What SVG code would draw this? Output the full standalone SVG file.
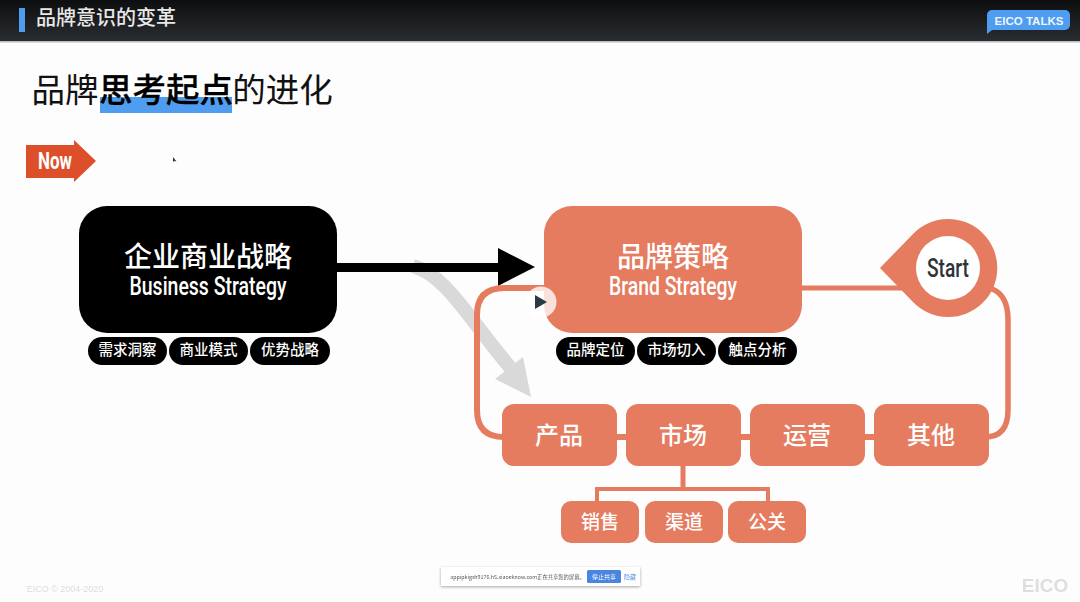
<svg xmlns="http://www.w3.org/2000/svg" width="1080" height="602" viewBox="0 0 1080 602">
<style>
text{font-family:"Noto Sans CJK SC","Noto Sans",sans-serif;text-anchor:middle}
.lat{font-family:"Roboto","Liberation Sans",sans-serif}
.o{fill:#e57b5f}
.pill{fill:#000}
.pt{fill:#fff;font-size:14.500px;font-weight:500}
.nt{fill:#fff;font-size:24px;font-weight:500}
.st{fill:#fff;font-size:19px;font-weight:500}
.hl{fill:#fff;font-size:28px;font-weight:500}
.en{fill:#fff;font-size:25.500px;font-weight:500}
.ln{fill:none;stroke:#e57b5f}
</style>
<defs>
<linearGradient id="hd" x1="0" y1="0" x2="0" y2="1"><stop offset="0" stop-color="#0d0e10"/><stop offset="1" stop-color="#2a2d30"/></linearGradient>
<filter id="soft" x="-10%" y="-30%" width="120%" height="160%"><feGaussianBlur stdDeviation="0.5"/></filter>
<filter id="sh" x="-5%" y="-30%" width="110%" height="170%"><feDropShadow dx="0" dy="1" stdDeviation="1.5" flood-color="#000" flood-opacity="0.35"/></filter>
</defs>
<rect width="1080" height="602" fill="#fdfdfd"/>
<g id="header">
<rect width="1080" height="41" fill="url(#hd)"/>
<rect y="41" width="1080" height="1.5" fill="#b9bcc0"/>
<rect x="19" y="8" width="6" height="24" fill="#4f9df0"/>
<text x="106" y="25" font-size="20" font-weight="500" fill="#e8e8e8" textLength="140" lengthAdjust="spacingAndGlyphs">品牌意识的变革</text>
</g>
<g id="badge">
<path d="M992,10H1065a5,5 0 0 1 5,5V25a5,5 0 0 1 -5,5H992L987,34V15a5,5 0 0 1 5,-5Z" fill="#4f9df0"/>
<text x="1029" y="24.500" font-size="11.500" font-weight="700" fill="#eef5fd" style="font-family:'Liberation Sans',sans-serif">EICO TALKS</text>
</g>
<g id="title">
<rect x="100" y="97" width="132" height="16" fill="#4f9df0"/>
<text x="65" y="102" font-size="33.500" font-weight="400" fill="#111">品牌</text>
<text x="166" y="102" font-size="33.500" font-weight="500" fill="#000" stroke="#000" stroke-width="0.300">思考起点</text>
<text x="282.500" y="102" font-size="33.500" font-weight="400" fill="#111">的进化</text>
</g>
<g id="now">
<polygon points="26,145 74,145 74,140 96,161 74,182 74,178 26,178" fill="#dd4f2b"/>
<text class="lat" x="55" y="169" font-size="24" font-weight="700" fill="#fff" textLength="34" lengthAdjust="spacingAndGlyphs">Now</text>
</g>
<path id="cursor" d="M173,157l0,5l1.200,-1l2.300,0.600Z" fill="#333"/>
<g id="connectors">
<path d="M413,266C448,276 470,322 515,373" fill="none" stroke="#d9d9d9" stroke-width="14"/>
<polygon points="495,379 523,357 531,397" fill="#d9d9d9"/>
<rect x="337" y="263" width="163" height="9" fill="#000"/>
<polygon points="498,248 535,267 498,286" fill="#000"/>
<path class="ln" stroke-width="6" d="M548,288H504Q477,288 477,315V410Q477,437 504,437"/>
<path class="ln" stroke-width="5" d="M800,288H905"/>
<path class="ln" stroke-width="5.500" d="M992,289Q1008,295 1008,320V410Q1008,437 985,437"/>
<path class="ln" stroke-width="6" d="M615,437H628M739,437H752M863,437H876"/>
<path class="ln" stroke-width="5" d="M683,464V489"/>
<path class="ln" stroke-width="4" d="M597,503V489H768V503"/>
</g>
<g id="node-business">
<rect x="79" y="206" width="258" height="127" rx="28" fill="#000"/>
<text class="hl" x="208" y="267">企业商业战略</text>
<text class="en lat" x="208" y="295" textLength="157" lengthAdjust="spacingAndGlyphs">Business Strategy</text>
</g>
<g id="pills-business">
<rect class="pill" x="88" y="337" width="79" height="28" rx="14"/><text class="pt" x="127.500" y="355">需求洞察</text>
<rect class="pill" x="169" y="337" width="79" height="28" rx="14"/><text class="pt" x="208.500" y="355">商业模式</text>
<rect class="pill" x="250" y="337" width="80" height="28" rx="14"/><text class="pt" x="290" y="355">优势战略</text>
</g>
<g id="node-brand">
<rect class="o" x="544" y="206" width="258" height="127" rx="28"/>
<text class="hl" x="673" y="267">品牌策略</text>
<text class="en lat" x="673" y="295" textLength="128" lengthAdjust="spacingAndGlyphs">Brand Strategy</text>
</g>
<g id="pills-brand">
<rect class="pill" x="556" y="337" width="79" height="28" rx="14"/><text class="pt" x="595.500" y="355">品牌定位</text>
<rect class="pill" x="637" y="337" width="79" height="28" rx="14"/><text class="pt" x="676.500" y="355">市场切入</text>
<rect class="pill" x="718" y="337" width="79" height="28" rx="14"/><text class="pt" x="757.500" y="355">触点分析</text>
</g>
<g id="node-start">
<path class="o" d="M880,268L913,234A49,49 0 1 1 913,302Z"/>
<circle cx="948" cy="268" r="32" fill="#fff"/>
<text class="lat" x="948" y="277" font-size="26" font-weight="500" fill="#2e3338" textLength="42" lengthAdjust="spacingAndGlyphs">Start</text>
</g>
<g id="play">
<circle cx="541" cy="302" r="15.500" fill="#fff" fill-opacity="0.78"/>
<polygon points="535,295 547,302 535,309" fill="#2d3a46"/>
</g>
<g id="node-product"><rect class="o" x="502" y="404" width="115" height="62" rx="12"/><text class="nt" x="559" y="444">产品</text></g>
<g id="node-market"><rect class="o" x="626" y="404" width="115" height="62" rx="12"/><text class="nt" x="683" y="444">市场</text></g>
<g id="node-ops"><rect class="o" x="750" y="404" width="115" height="62" rx="12"/><text class="nt" x="807" y="444">运营</text></g>
<g id="node-other"><rect class="o" x="874" y="404" width="115" height="62" rx="12"/><text class="nt" x="931" y="444">其他</text></g>
<g id="node-sales"><rect class="o" x="561" y="501" width="78" height="42" rx="10"/><text class="st" x="600" y="529">销售</text></g>
<g id="node-channel"><rect class="o" x="645" y="501" width="78" height="42" rx="10"/><text class="st" x="684" y="529">渠道</text></g>
<g id="node-pr"><rect class="o" x="728" y="501" width="78" height="42" rx="10"/><text class="st" x="767" y="529">公关</text></g>
<g id="toast">
<rect x="441" y="567" width="199" height="19" fill="#fff" filter="url(#sh)"/>
<rect x="587" y="570" width="34" height="13" rx="1.500" fill="#4a86e0"/>
<g filter="url(#soft)">
<text x="517.500" y="578.500" font-size="5.300" fill="#555">appipkigsh9176.h5.xiaoeknow.com正在共享您的屏幕。</text>
<text x="604" y="578.500" font-size="6" fill="#fff">停止共享</text>
<text x="630" y="578.500" font-size="6" fill="#4a86e0">隐藏</text>
</g>
</g>
<g id="footer" filter="url(#soft)">
<text x="65" y="591.500" font-size="9" fill="#dcdcdc" style="font-family:'Liberation Sans',sans-serif">EICO © 2004-2020</text>
<text x="1045" y="592" font-size="19" font-weight="700" fill="#dedede" style="font-family:'Liberation Sans',sans-serif">EICO</text>
</g>
</svg>
